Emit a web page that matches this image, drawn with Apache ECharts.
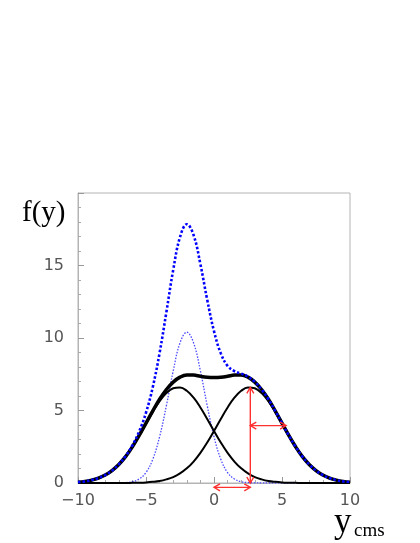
<!DOCTYPE html>
<html>
<head>
<meta charset="utf-8">
<script src="https://cdn.jsdelivr.net/npm/echarts@6/dist/echarts.min.js"></script>
<style>html,body{margin:0;padding:0;background:#fff;}#c{width:420px;height:543px;}</style>
</head>
<body>
<div id="c"></div>
<script>
// x positions (y_cms)
var xs = [-10,-9.5,-9,-8.5,-8,-7.5,-7,-6.5,-6,-5.5,-5,-4.5,-4,-3.5,-3,-2.5,-2,-1.5,-1,-0.5,0,0.5,1,1.5,2,2.5,3,3.5,4,4.5,5,5.5,6,6.5,7,7.5,8,8.5,9,9.5,10];
// left thin black component
var leftComp = [0.06,0.11,0.20,0.34,0.55,0.86,1.28,1.82,2.49,3.26,4.09,4.90,5.64,6.20,6.53,6.59,6.36,5.88,5.21,4.42,3.59,2.79,2.08,1.48,1.01,0.66,0.41,0.25,0.14,0.08,0.04,0.02,0.01,0,0,0,0,0,0,0,0];
// right thin black component
var rightComp = [0,0,0,0,0,0,0,0,0.01,0.02,0.04,0.08,0.14,0.25,0.41,0.66,1.01,1.48,2.08,2.79,3.59,4.42,5.21,5.88,6.36,6.59,6.53,6.20,5.64,4.90,4.09,3.26,2.49,1.82,1.28,0.86,0.55,0.34,0.20,0.11,0.06];
// thick black sum
var sumBlack = [0.06,0.11,0.20,0.34,0.55,0.86,1.28,1.82,2.50,3.28,4.13,4.98,5.78,6.45,6.96,7.30,7.45,7.44,7.36,7.30,7.28,7.30,7.36,7.44,7.45,7.30,6.96,6.45,5.78,4.98,4.13,3.28,2.50,1.82,1.28,0.86,0.55,0.34,0.20,0.11,0.06];
// narrow thin blue dotted component
var narrowBlue = [0,0,0,0,0,0,0.01,0.03,0.09,0.28,0.72,1.64,3.19,5.34,7.73,9.66,10.4,9.66,7.73,5.34,3.19,1.64,0.72,0.28,0.09,0.03,0.01,0,0,0,0,0,0,0,0,0,0,0,0,0,0];
// thick blue dotted total
var totalBlue = [0.06,0.11,0.20,0.34,0.55,0.86,1.29,1.85,2.59,3.56,4.85,6.62,8.97,11.79,14.69,16.96,17.85,17.10,15.09,12.64,10.47,8.94,8.08,7.72,7.54,7.33,6.97,6.45,5.78,4.98,4.13,3.28,2.50,1.82,1.28,0.86,0.55,0.34,0.20,0.11,0.06];
// red double arrows: [x1, y1, x2, y2]
var arrows = [[2.67,0,2.67,6.6],[2.67,3.96,5.3,3.96],[0,-0.3,2.67,-0.3]];
var xTicks = {min:-10, max:10, interval:5};
var yTicks = {min:0, max:20, interval:5};

function pairs(ys){ return xs.map(function(x,i){ return [x, ys[i]]; }); }

var chart = echarts.init(document.getElementById('c'), null, {renderer:'canvas'});
var labelFont = {color:'#555', fontFamily:'DejaVu Sans', fontSize:16};
chart.setOption({
  animation:false,
  backgroundColor:'#fff',
  grid:{left:78, right:70, top:193, bottom:60, show:true, borderColor:'#b4b4b4', borderWidth:1, backgroundColor:'transparent'},
  xAxis:{type:'value', min:xTicks.min, max:xTicks.max, interval:xTicks.interval,
    axisLine:{show:true, onZero:false, lineStyle:{color:'#b4b4b4', width:1}},
    axisTick:{show:true, inside:true, length:6, lineStyle:{color:'#999'}},
    minorTick:{show:true, splitNumber:5, length:3, lineStyle:{color:'#aaa'}},
    splitLine:{show:false},
    axisLabel:Object.assign({margin:10, formatter:function(v){return String(v).replace('-','\u2212');}}, labelFont)
  },
  yAxis:{type:'value', min:yTicks.min, max:yTicks.max, interval:yTicks.interval,
    axisLine:{show:true, onZero:false, lineStyle:{color:'#b4b4b4', width:1}},
    axisTick:{show:true, inside:true, length:6, lineStyle:{color:'#999'}},
    minorTick:{show:true, splitNumber:5, length:3, lineStyle:{color:'#aaa'}},
    splitLine:{show:false},
    axisLabel:Object.assign({margin:14, showMaxLabel:false}, labelFont)
  },
  graphic:[
    {type:'text', left:22, top:199, style:{text:'f(y)', font:'29px "Liberation Serif"', fill:'#000'}},
    {type:'text', left:334, top:505, style:{text:'y', font:'35px "Liberation Serif"', fill:'#000'}},
    {type:'text', left:354, top:522, style:{text:'cms', font:'19px "Liberation Serif"', fill:'#000'}}
  ],
  series:[
    {type:'line', data:pairs(narrowBlue), smooth:0.4, symbol:'none', z:2,
      lineStyle:{color:'#4a4aff', width:1.3, type:[1.5,1.5]}},
    {type:'line', data:pairs(leftComp), smooth:0.4, symbol:'none', z:3,
      lineStyle:{color:'#000', width:2}},
    {type:'line', data:pairs(rightComp), smooth:0.4, symbol:'none', z:3,
      lineStyle:{color:'#000', width:2}},
    {type:'line', data:pairs(sumBlack), smooth:0.4, symbol:'none', z:4,
      lineStyle:{color:'#000', width:3.5}},
    {type:'line', data:pairs(totalBlue), smooth:0.4, symbol:'none', z:5,
      lineStyle:{color:'#0000ff', width:2.6, type:[2.5,2]}},
    {type:'custom', coordinateSystem:'cartesian2d', z:6, clip:false,
      encode:{x:[0,2], y:[1,3]},
      data:arrows,
      renderItem:function(params, api){
        var a = api.coord([api.value(0), api.value(1)]);
        var b = api.coord([api.value(2), api.value(3)]);
        var dx=b[0]-a[0], dy=b[1]-a[1], len=Math.sqrt(dx*dx+dy*dy);
        var ux=dx/len, uy=dy/len, nx=-uy, ny=ux, hl=6, hw=3.5;
        var st = {stroke:'#ff3030', lineWidth:1.4, fill:null};
        return {type:'group', children:[
          {type:'line', shape:{x1:a[0], y1:a[1], x2:b[0], y2:b[1]}, style:st},
          {type:'polyline', shape:{points:[[b[0]-ux*hl+nx*hw, b[1]-uy*hl+ny*hw],[b[0],b[1]],[b[0]-ux*hl-nx*hw, b[1]-uy*hl-ny*hw]]}, style:st},
          {type:'polyline', shape:{points:[[a[0]+ux*hl+nx*hw, a[1]+uy*hl+ny*hw],[a[0],a[1]],[a[0]+ux*hl-nx*hw, a[1]+uy*hl-ny*hw]]}, style:st}
        ]};
      }
    }
  ]
});
</script>
</body>
</html>
